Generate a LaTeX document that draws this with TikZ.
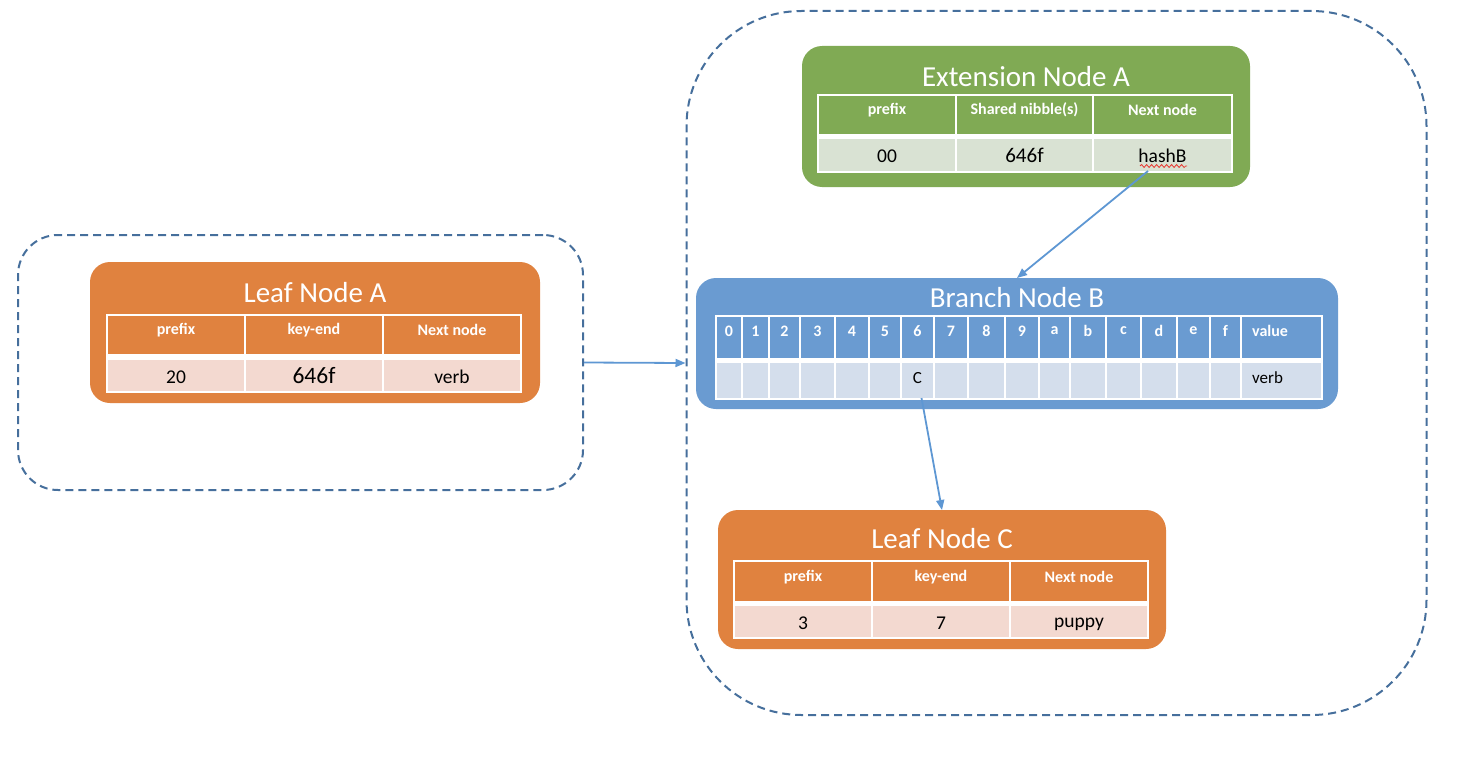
\documentclass[tikz,border=0pt]{standalone}
\usepackage{fontspec}
\setmainfont{Carlito}
\usetikzlibrary{arrows.meta,decorations.pathmorphing,calc}
\definecolor{orH}{HTML}{E0823F}
\definecolor{orB}{HTML}{F3D9D0}
\definecolor{grH}{HTML}{80AA54}
\definecolor{grB}{HTML}{D9E2D3}
\definecolor{blH}{HTML}{6A9BD1}
\definecolor{blB}{HTML}{D4DEEC}
\definecolor{dashc}{HTML}{466F9C}
\definecolor{arrc}{HTML}{5E97D3}
\definecolor{spellred}{HTML}{E8372F}
\begin{document}
\begin{tikzpicture}[x=1pt,y=-1pt,
  box/.style={rounded corners=20pt, inner sep=0pt, outer sep=0pt, draw=none},
  cellbox/.style={inner sep=0pt, outer sep=0pt, draw=none},
  ttl/.style={text=white, font=\fontsize{29}{31}\selectfont, inner sep=0pt},
  htxt/.style={text=white, font=\bfseries\fontsize{16}{18}\selectfont, inner sep=0pt},
  btxt/.style={text=black, font=\fontsize{19.5}{21}\selectfont, inner sep=0pt},
  stxt/.style={text=black, font=\fontsize{17}{19}\selectfont, inner sep=0pt},
  grp/.style={draw=dashc, dash pattern=on 8pt off 5pt, line width=2pt, inner sep=0pt},
  conn/.style={draw=arrc, line width=1.8pt, -{Triangle[length=10pt,width=8pt]}}
]
\useasboundingbox (0,0) rectangle (1480,784);

% dashed groups
\node[grp, rounded corners=40pt, minimum width=565, minimum height=255] (grpA) at (300.5,362.5) {};
\node[grp, rounded corners=115pt, minimum width=740, minimum height=704] (grpB) at (1056.5,363) {};

% ---------- Leaf Node A ----------
\node[box, fill=orH, minimum width=450, minimum height=141] (leafA) at (315,332.5) {};
\node[ttl] (leafAt) at (315,293) {Leaf Node A};
\fill[white] (106,314) rectangle (522,393);
\foreach \a/\b/\t [count=\i] in {107/245/prefix,245/383/key-end,383/521/Next node}{
  \node[cellbox, fill=orH, minimum width=\b-\a-2, minimum height=38] (laH\i) at ({(\a+\b)/2},335) {};
  \node[htxt] (laHt\i) at ({(\a+\b)/2},330) {\t};
  \node[cellbox, fill=orB, minimum width=\b-\a-2, minimum height=31] (laB\i) at ({(\a+\b)/2},375.5) {};
}
\node[btxt] (laBt1) at (176,377) {20};
\node[btxt, font=\fontsize{23.5}{25}\selectfont] (laBt2) at (314,376) {646f};
\node[btxt] (laBt3) at (452,377) {verb};

% ---------- Extension Node A ----------
\node[box, fill=grH, minimum width=448, minimum height=141] (ext) at (1026,116.5) {};
\node[ttl] (extt) at (1026,77) {Extension Node A};
\fill[white] (817,94) rectangle (1233,173);
\foreach \a/\b/\t [count=\i] in {818/956/prefix,956/1093/{Shared nibble(s)},1093/1232/Next node}{
  \node[cellbox, fill=grH, minimum width=\b-\a-2, minimum height=38] (eH\i) at ({(\a+\b)/2},115) {};
  \node[htxt] (eHt\i) at ({(\a+\b)/2},110) {\t};
  \node[cellbox, fill=grB, minimum width=\b-\a-2, minimum height=32] (eB\i) at ({(\a+\b)/2},155) {};
}
\node[btxt] (eBt1) at (887,156) {00};
\node[btxt, font=\fontsize{21}{23}\selectfont] (eBt2) at (1024.5,155.5) {646f};
\node[btxt] (eBt3) at (1162.5,156) {hashB};
\draw[spellred, line width=0.8pt, decorate, decoration={snake, segment length=5pt, amplitude=1.5pt}] (1140,166) -- (1187,166);

% ---------- Branch Node B ----------
\node[box, fill=blH, minimum width=642, minimum height=131] (branch) at (1017,343.5) {};
\node[ttl] (brancht) at (1017,298) {Branch Node B};
\fill[white] (715,315) rectangle (1323,400);
\foreach \a/\b/\t [count=\i] in {716/742/0,742/769/1,769/800/2,800/835/3,835/869/4,869/901/5,901/934/6,934/968/7,968/1005/8,1005/1039/9,1039/1070/a,1070/1106/b,1106/1141/c,1141/1177/d,1177/1210/e,1210/1241/f,1241/1322/{}}{
  \node[cellbox, fill=blH, minimum width=\b-\a-2, minimum height=41] (bH\i) at ({(\a+\b)/2},337.5) {};
  \node[htxt] (bHt\i) at ({(\a+\b)/2},331) {\t};
  \node[cellbox, fill=blB, minimum width=\b-\a-2, minimum height=35] (bB\i) at ({(\a+\b)/2},380.5) {};
}
\node[htxt, anchor=west] (bHv) at (1252,331) {value};
\node[stxt] (bBc) at (917.5,378) {C};
\node[stxt, anchor=west] (bBv) at (1252,378) {verb};

% ---------- Leaf Node C ----------
\node[box, fill=orH, minimum width=448, minimum height=139] (leafC) at (942,579.5) {};
\node[ttl] (leafCt) at (942,539) {Leaf Node C};
\fill[white] (733,560) rectangle (1149,639);
\foreach \a/\b/\t [count=\i] in {734/872/prefix,872/1010/key-end,1010/1148/Next node}{
  \node[cellbox, fill=orH, minimum width=\b-\a-2, minimum height=39] (lcH\i) at ({(\a+\b)/2},581.5) {};
  \node[htxt] (lcHt\i) at ({(\a+\b)/2},577) {\t};
  \node[cellbox, fill=orB, minimum width=\b-\a-2, minimum height=31] (lcB\i) at ({(\a+\b)/2},621.5) {};
}
\node[btxt] (lcBt1) at (803,623) {3};
\node[btxt] (lcBt2) at (941,623) {7};
\node[btxt] (lcBt3) at (1079,624) {puppy};

% ---------- connectors ----------
\draw[conn] ([xshift=-14.5pt]eB3.south) -- (branch.north);
\draw[conn] ([xshift=4pt]bB7.south) -- (leafC.north);
\draw[conn] (grpA.east) -- (grpB.west);
\end{tikzpicture}
\end{document}
